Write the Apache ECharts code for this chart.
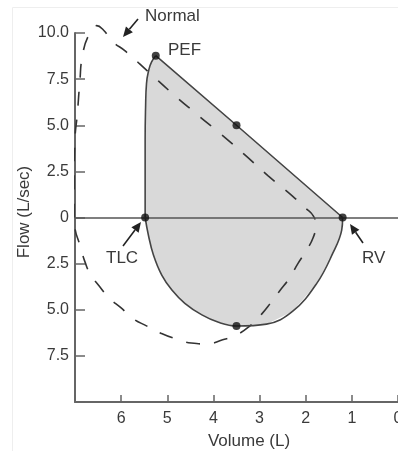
<!DOCTYPE html>
<html><head><meta charset="utf-8">
<script src="https://cdn.jsdelivr.net/npm/echarts@6/dist/echarts.min.js"></script>
<style>html,body{margin:0;padding:0;background:#fff}#c{width:398px;height:451px}</style>
</head><body><div id="c"></div>
<script>
// ---- data (volume in L, flow in L/sec; inspiratory flow negative) ----
const volumeTicks = [0, 1, 2, 3, 4, 5, 6, 7];
const flowTicks = [-10, -7.5, -5, -2.5, 0, 2.5, 5, 7.5, 10];

const normalVolume = [7.02, 7.02, 7.0, 6.95, 6.9, 6.83, 6.68, 6.53, 6.38, 6.19, 5.9, 5.39, 4.88, 4.38, 3.83, 3.33, 2.82, 2.28, 2.0, 1.84, 1.78, 1.84, 1.99, 2.17, 2.35, 2.57, 2.75, 2.96, 3.22, 3.5, 3.8, 4.16, 4.48, 4.85, 5.14, 5.43, 5.76, 6.0, 6.26, 6.48, 6.66, 6.77, 6.9, 7.0, 7.02];
const normalFlow = [0, 2.0, 4.3, 5.6, 7.2, 8.9, 10.0, 10.4, 10.15, 9.55, 9.0, 7.85, 6.7, 5.64, 4.5, 3.42, 2.27, 1.15, 0.5, 0.1, -0.4, -1.1, -1.8, -2.5, -3.27, -4.0, -4.6, -5.25, -5.9, -6.36, -6.63, -6.85, -6.8, -6.55, -6.27, -5.9, -5.45, -4.9, -4.36, -3.7, -3.1, -2.5, -1.45, -0.6, 0];

const riseVolume = [5.48, 5.48, 5.47, 5.45, 5.4, 5.34, 5.25];
const riseFlow = [0, 4.2, 6.0, 7.27, 8.0, 8.44, 8.77];
const fallVolume = [5.25, 3.5, 1.2];
const fallFlow = [8.77, 5.0, 0];
const inspVolume = [1.2, 1.22, 1.41, 1.76, 2.28, 2.85, 3.5, 3.89, 4.25, 4.62, 4.9, 5.12, 5.3, 5.41, 5.48];
const inspFlow = [0, -0.68, -1.92, -3.57, -5.08, -5.78, -5.88, -5.68, -5.28, -4.65, -3.93, -3.12, -2.03, -0.95, 0];

const markerVolume = [5.48, 5.25, 3.5, 1.2, 3.5];
const markerFlow = [0, 8.77, 5.0, 0, -5.88];

const pairs = (xs, ys) => xs.map((x, i) => [x, ys[i]]);
const loopFill = pairs(riseVolume, riseFlow)
  .concat(pairs(fallVolume, fallFlow).slice(1))
  .concat(pairs(inspVolume, inspFlow).slice(1));

const FONT = 'Liberation Sans, Arial, sans-serif';
const TXT = '#3a3a3a';
const AX = '#666';

function arrow(x1, y1, x2, y2) {
  const a = Math.atan2(y2 - y1, x2 - x1), c = Math.cos(a), s = Math.sin(a);
  const L = 10, W = 4.5;
  const bx = x2 - L * c, by = y2 - L * s;
  return [
    {type: 'line', shape: {x1: x1, y1: y1, x2: bx, y2: by}, style: {stroke: '#222', lineWidth: 1.6}},
    {type: 'polygon', shape: {points: [[x2, y2], [bx - s * W, by + c * W], [bx + s * W, by - c * W]]}, style: {fill: '#222'}}
  ];
}
function label(text, x, y, align) {
  return {type: 'text', x: x, y: y, style: {text: text, fill: TXT, font: '17px ' + FONT, textAlign: align || 'left', textVerticalAlign: 'middle'}};
}

const chart = echarts.init(document.getElementById('c'));
chart.setOption({
  animation: false,
  backgroundColor: '#fff',
  grid: {left: 75, right: 0, top: 33, bottom: 49, containLabel: false, outerBoundsMode: 'none'},
  xAxis: {
    type: 'value', min: volumeTicks[0], max: volumeTicks[volumeTicks.length - 1], interval: 1, inverse: true,
    axisLine: {show: true, onZero: false, lineStyle: {color: AX, width: 2}},
    axisTick: {show: true, inside: true, length: 7, lineStyle: {color: AX, width: 1.5}},
    axisLabel: {margin: 9, color: TXT, fontSize: 16, fontFamily: FONT,
      formatter: v => v === volumeTicks[volumeTicks.length - 1] ? '' : String(v)},
    splitLine: {show: false}
  },
  yAxis: {
    type: 'value', min: flowTicks[0], max: flowTicks[flowTicks.length - 1], interval: 2.5,
    axisLine: {show: true, onZero: false, lineStyle: {color: AX, width: 2}},
    axisTick: {show: true, inside: true, length: 10, lineStyle: {color: AX, width: 1.5}},
    axisLabel: {margin: 6, color: TXT, fontSize: 16, fontFamily: FONT,
      formatter: v => v === flowTicks[0] ? '' : (v === 0 ? '0' : Math.abs(v).toFixed(1))},
    splitLine: {show: false}
  },
  series: [
    {type: 'line', name: 'fill', data: loopFill, smooth: false, symbol: 'none', z: 1,
     lineStyle: {width: 0, opacity: 0}, areaStyle: {color: '#d9d9d9', opacity: 1},
     markLine: {silent: true, symbol: 'none', label: {show: false},
       lineStyle: {color: '#555', width: 1.6, type: 'solid'}, data: [{yAxis: 0}]}},
    {type: 'line', name: 'Normal', data: pairs(normalVolume, normalFlow), smooth: true, symbol: 'none', clip: false, z: 3,
     lineStyle: {color: '#333', width: 1.6, type: [14, 14]}},
    {type: 'line', name: 'rise', data: pairs(riseVolume, riseFlow), smooth: true, symbol: 'none', z: 4,
     lineStyle: {color: '#444', width: 1.6}},
    {type: 'line', name: 'fall', data: pairs(fallVolume, fallFlow), smooth: false, symbol: 'none', z: 4,
     lineStyle: {color: '#444', width: 1.6}},
    {type: 'line', name: 'insp', data: pairs(inspVolume, inspFlow), smooth: 0.4, symbol: 'none', z: 4,
     lineStyle: {color: '#444', width: 1.6}},
    {type: 'scatter', data: pairs(markerVolume, markerFlow), symbolSize: 8, z: 5,
     itemStyle: {color: '#111'}}
  ],
  graphic: {elements: [
    {type: 'rect', shape: {x: 12.5, y: 7.5, width: 400, height: 460}, style: {fill: 'none', stroke: '#eeeeee', lineWidth: 1}, z: -1},
    label('Normal', 145, 16),
    label('PEF', 168, 50),
    label('TLC', 106, 258),
    label('RV', 362, 258),
    label('Volume (L)', 249, 441, 'center'),
    {type: 'text', x: 24, y: 212, rotation: Math.PI / 2,
     style: {text: 'Flow (L/sec)', fill: TXT, font: '17px ' + FONT, textAlign: 'center', textVerticalAlign: 'middle'}}
  ].concat(arrow(138, 19, 123, 37), arrow(123, 246, 141, 222), arrow(363, 243, 350, 224))}
});
</script>
</body></html>
